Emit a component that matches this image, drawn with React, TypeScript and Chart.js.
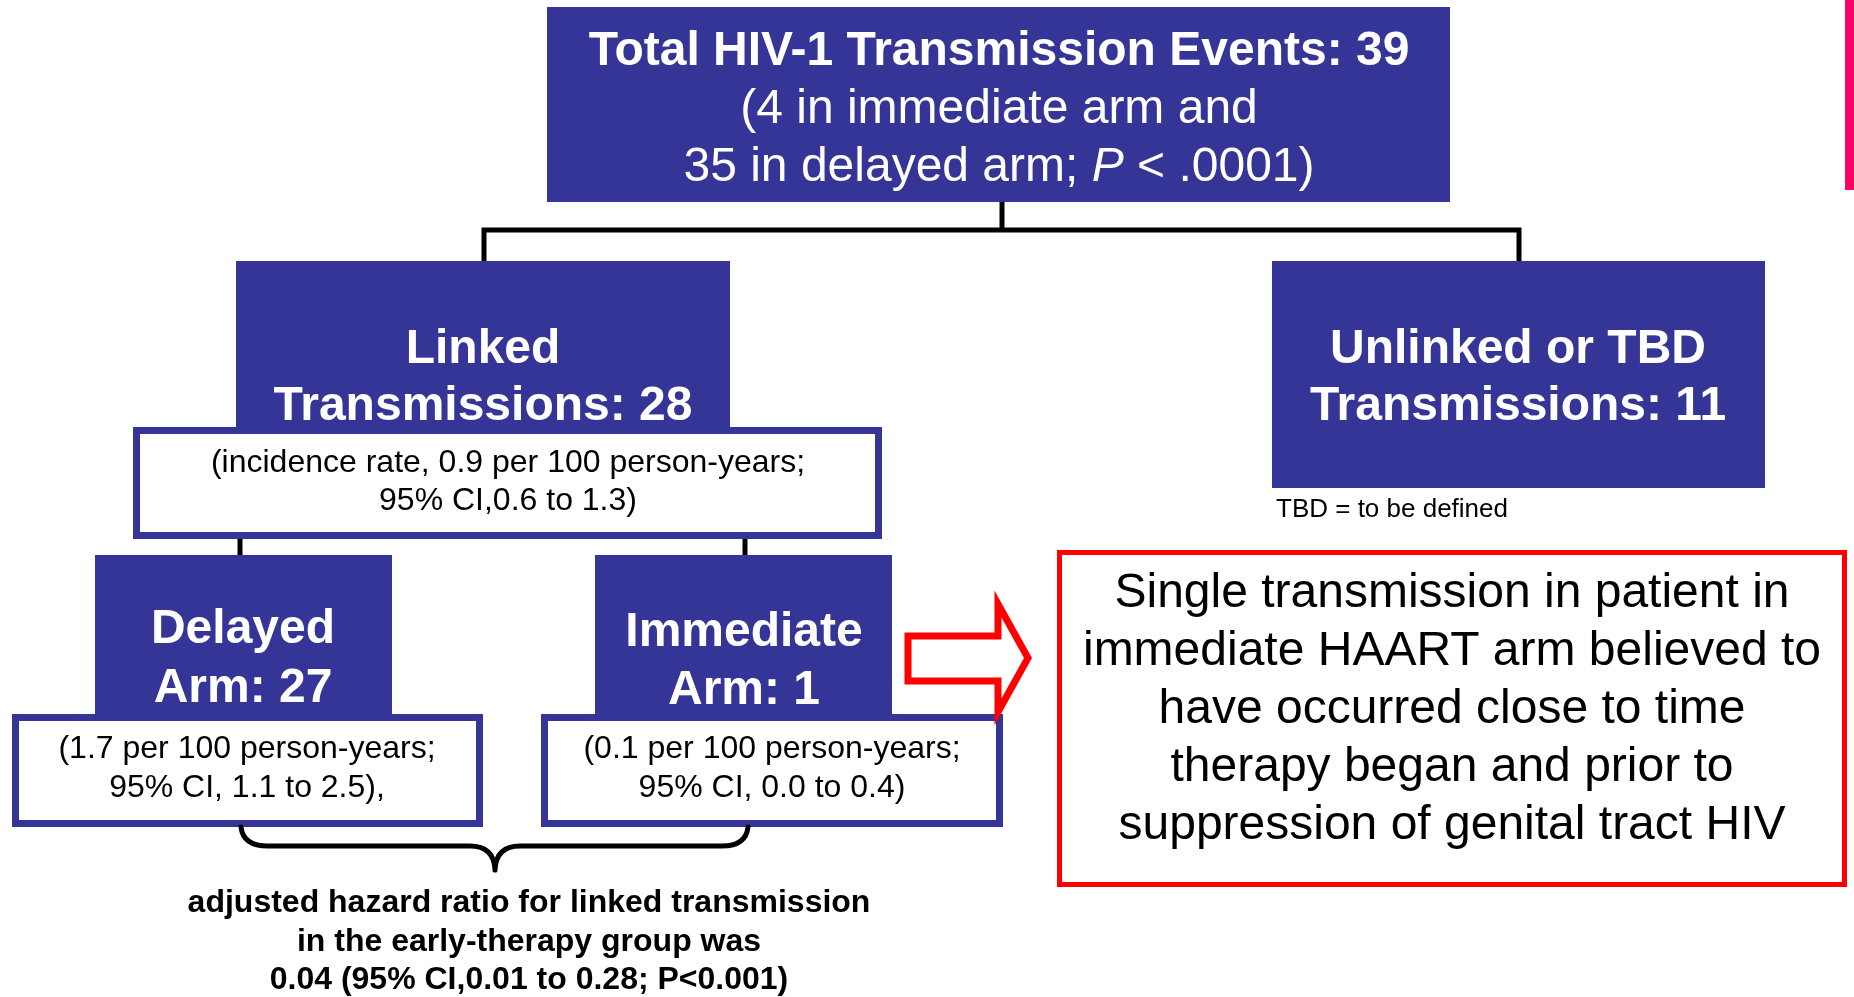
import { useEffect, useRef } from "react";
import { Chart, registerables } from "chart.js";

Chart.register(...registerables);

// ---- content ----
const titleLines = ["Total HIV-1 Transmission Events: 39", "(4 in immediate arm and", "35 in delayed arm; *P* < .0001)"];
const linkedLines = ["Linked", "Transmissions: 28"];
const linkedNote = ["(incidence rate, 0.9 per 100 person-years;", "95% CI,0.6 to 1.3)"];
const unlinkedLines = ["Unlinked or TBD", "Transmissions: 11"];
const tbdNote = ["TBD = to be defined"];
const delayedLines = ["Delayed", "Arm: 27"];
const delayedNote = ["(1.7 per 100 person-years;", "95% CI, 1.1 to 2.5),"];
const immediateLines = ["Immediate", "Arm: 1"];
const immediateNote = ["(0.1 per 100 person-years;", "95% CI, 0.0 to 0.4)"];
const calloutLines = [
  "Single transmission in patient in",
  "immediate HAART arm believed to",
  "have occurred close to time",
  "therapy began and prior to",
  "suppression of genital tract HIV",
];
const hazardLines = [
  "adjusted hazard ratio for linked transmission",
  "in the early-therapy group was",
  "0.04 (95% CI,0.01 to 0.28; P<0.001)",
];

// ---- layout (diagram units, drawn through the chart scales) ----
const W = 1854;
const H = 997;
const FONT = '"Liberation Sans", Arial, Helvetica, sans-serif';
const BLUE = "#353597";
const RED = "#FF0000";
const PINK = "#FF0066";

// filled boxes: [x0, y0, x1, y1]
const filledBoxes = [
  [547, 7, 1450, 202],
  [236, 261, 730, 430],
  [1272, 261, 1765, 488],
  [95, 555, 392, 717],
  [595, 555, 892, 717],
];
// note boxes (white with blue frame)
const noteBoxes = [
  [133, 427, 882, 539],
  [12, 714, 483, 827],
  [541, 714, 1003, 827],
];
const calloutBox = [1057, 550, 1847, 887];
const pinkBar = [1845, 0, 1854, 190];
// connector polylines
const connectors = [
  [[1002, 202], [1002, 230]],
  [[484, 261], [484, 230], [1519, 230], [1519, 261]],
  [[240, 539], [240, 555]],
  [[745, 539], [745, 555]],
];
const arrowPath = [
  [908, 636], [998, 636], [998, 604], [1028, 658], [998, 712], [998, 681], [908, 681],
];

export default function App() {
  const ref = useRef<HTMLCanvasElement>(null);
  useEffect(() => {
    document.body.style.margin = "0";
    const canvas = ref.current!;

    const diagram = {
      id: "diagram",
      beforeDraw(chart: any) {
        const ctx = chart.ctx;
        ctx.save();
        ctx.fillStyle = "#ffffff";
        ctx.fillRect(0, 0, chart.width, chart.height);
        ctx.restore();
      },
      afterDraw(chart: any) {
        const ctx: CanvasRenderingContext2D = chart.ctx;
        const xs = chart.scales.x;
        const ys = chart.scales.y;
        const px = (v: number) => xs.getPixelForValue(v);
        const py = (v: number) => ys.getPixelForValue(v);

        const rectFill = (b: number[], color: string) => {
          ctx.fillStyle = color;
          ctx.fillRect(px(b[0]), py(b[1]), px(b[2]) - px(b[0]), py(b[3]) - py(b[1]));
        };
        const rectFrame = (b: number[], color: string, lw: number) => {
          ctx.fillStyle = "#ffffff";
          ctx.fillRect(px(b[0]), py(b[1]), px(b[2]) - px(b[0]), py(b[3]) - py(b[1]));
          ctx.strokeStyle = color;
          ctx.lineWidth = lw;
          ctx.strokeRect(
            px(b[0]) + lw / 2,
            py(b[1]) + lw / 2,
            px(b[2]) - px(b[0]) - lw,
            py(b[3]) - py(b[1]) - lw
          );
        };
        const drawLine = (
          text: string,
          cx: number,
          base: number,
          size: number,
          weight: string,
          color: string,
          align: "center" | "left" = "center"
        ) => {
          const parts = text.split("*");
          const fonts = parts.map((_, i) => `${i % 2 === 1 ? "italic " : ""}${weight} ${size}px ${FONT}`);
          let total = 0;
          const widths = parts.map((p, i) => {
            ctx.font = fonts[i];
            const w = ctx.measureText(p).width;
            total += w;
            return w;
          });
          let x = align === "center" ? px(cx) - total / 2 : px(cx);
          ctx.fillStyle = color;
          ctx.textAlign = "left";
          ctx.textBaseline = "alphabetic";
          parts.forEach((p, i) => {
            ctx.font = fonts[i];
            ctx.fillText(p, x, py(base));
            x += widths[i];
          });
        };
        const block = (
          lines: string[],
          cx: number,
          firstBase: number,
          step: number,
          size: number,
          weights: string[],
          color: string,
          align: "center" | "left" = "center"
        ) => {
          lines.forEach((l, i) =>
            drawLine(l, cx, firstBase + i * step, size, weights[Math.min(i, weights.length - 1)], color, align)
          );
        };

        ctx.save();
        // connectors
        ctx.strokeStyle = "#000000";
        ctx.lineWidth = 5;
        ctx.lineCap = "butt";
        ctx.lineJoin = "miter";
        connectors.forEach((pl) => {
          ctx.beginPath();
          pl.forEach((p, i) => (i === 0 ? ctx.moveTo(px(p[0]), py(p[1])) : ctx.lineTo(px(p[0]), py(p[1]))));
          ctx.stroke();
        });

        // filled boxes
        filledBoxes.forEach((b) => rectFill(b, BLUE));
        // note boxes
        noteBoxes.forEach((b) => rectFrame(b, BLUE, 7));

        // texts in boxes
        block(titleLines, 999, 65, 58, 48, ["bold", "normal"], "#ffffff");
        block(linkedLines, 483, 363, 57, 48, ["bold"], "#ffffff");
        block(unlinkedLines, 1518, 363, 57, 48, ["bold"], "#ffffff");
        block(delayedLines, 243, 643, 59, 48, ["bold"], "#ffffff");
        block(immediateLines, 744, 646, 58, 48, ["bold"], "#ffffff");
        block(linkedNote, 508, 472, 38, 32, ["normal"], "#000000");
        block(delayedNote, 247, 758, 39, 32, ["normal"], "#000000");
        block(immediateNote, 772, 758, 39, 32, ["normal"], "#000000");
        block(tbdNote, 1276, 517, 30, 26, ["normal"], "#000000", "left");

        // arrow
        ctx.strokeStyle = RED;
        ctx.lineWidth = 7;
        ctx.lineJoin = "miter";
        ctx.beginPath();
        arrowPath.forEach((p, i) => (i === 0 ? ctx.moveTo(px(p[0]), py(p[1])) : ctx.lineTo(px(p[0]), py(p[1]))));
        ctx.closePath();
        ctx.stroke();

        // callout
        rectFrame(calloutBox, RED, 5);
        block(calloutLines, 1452, 607, 58, 48, ["normal"], "#000000");

        // brace
        ctx.strokeStyle = "#000000";
        ctx.lineWidth = 5;
        ctx.lineCap = "round";
        ctx.lineJoin = "round";
        ctx.beginPath();
        ctx.moveTo(px(241), py(827));
        ctx.quadraticCurveTo(px(243), py(846), px(268), py(846));
        ctx.lineTo(px(470), py(846));
        ctx.quadraticCurveTo(px(494), py(846), px(495), py(870));
        ctx.moveTo(px(495), py(870));
        ctx.quadraticCurveTo(px(496), py(846), px(520), py(846));
        ctx.lineTo(px(722), py(846));
        ctx.quadraticCurveTo(px(746), py(846), px(748), py(827));
        ctx.stroke();

        block(hazardLines, 529, 912, 38.5, 32, ["bold"], "#000000");

        // pink bar
        rectFill(pinkBar, PINK);
        ctx.restore();
      },
    };

    const chart = new Chart(canvas, {
      type: "scatter",
      data: { datasets: [{ data: [], pointRadius: 0 }] },
      options: {
        animation: false,
        responsive: false,
        maintainAspectRatio: false,
        layout: { padding: 0 },
        scales: {
          x: { type: "linear", min: 0, max: W, display: false },
          y: { type: "linear", min: 0, max: H, reverse: true, display: false },
        },
        plugins: { legend: { display: false }, tooltip: { enabled: false } },
      },
      plugins: [diagram],
    });
    return () => chart.destroy();
  }, []);

  return (
    <div style={{ width: W, height: H }}>
      <canvas ref={ref} width={W} height={H} style={{ display: "block" }} />
    </div>
  );
}
